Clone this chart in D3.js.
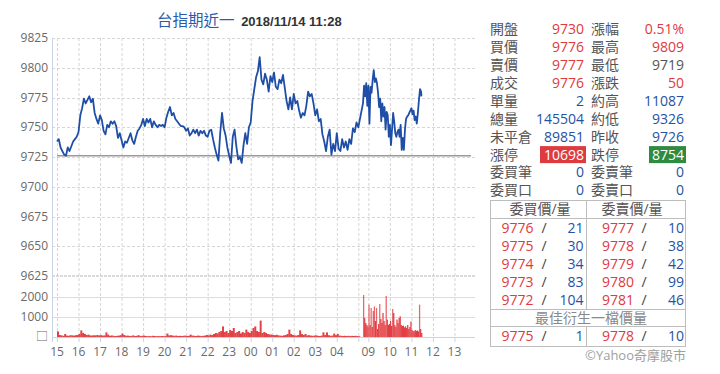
<!DOCTYPE html>
<html>
<head>
<meta charset="utf-8">
<script src="https://cdn.jsdelivr.net/npm/d3@7"></script>
<style>
  body { margin: 0; background: #fff; }
  svg { display: block; font-family: "Open Sans", "Noto Sans CJK TC", sans-serif; }
</style>
</head>
<body>
<svg id="chart" width="720" height="374"></svg>
<script>
// ---- data ----
const titleName = "台指期近一";
const titleTime = "2018/11/14 11:28";
const prevClose = 9726;

// night session 15:00 -> 05:00, one value every 5 min
const nightStart = "15:00";
const nightStep = 5;
const nightPrices = [
  9738,9740,9733,9730,9727,9726,9733,9730,9734,9738,9740,9742,
  9746,9760,9766,9774,9770,9773,9776,9771,9774,9762,9757,9753,
  9760,9756,9747,9744,9752,9750,9755,9753,9755,9751,9741,9745,
  9739,9733,9738,9737,9741,9745,9739,9736,9742,9747,9749,9752,
  9757,9751,9757,9754,9757,9750,9755,9752,9750,9752,9751,9752,
  9750,9758,9763,9767,9760,9762,9757,9755,9753,9751,9751,9750,
  9747,9749,9743,9745,9748,9745,9748,9743,9747,9745,9747,9743,
  9742,9747,9748,9740,9733,9727,9722,9745,9762,9749,9743,9733,
  9726,9720,9742,9748,9734,9723,9725,9720,9735,9745,9736,9750,
  9754,9772,9782,9792,9797,9809,9790,9786,9795,9790,9780,9793,
  9788,9796,9784,9782,9790,9787,9794,9783,9772,9765,9775,9765,
  9778,9770,9772,9764,9758,9762,9760,9768,9780,9776,9778,9770,
  9760,9765,9755,9757,9744,9738,9730,9742,9748,9727,9736,9730,
  9745,9732,9730,9740,9733,9738,9731,9740,9736,9749,9746,9754,
  9750
];
const nightVolumes = [
  280,100,80,60,150,70,60,90,80,70,90,100,
  150,330,200,150,100,120,80,70,90,80,100,80,
  90,70,80,230,120,60,80,60,50,60,70,90,
  170,100,60,70,50,60,80,50,60,90,50,60,
  70,50,40,50,40,60,50,40,50,40,50,40,
  50,170,80,90,70,60,70,50,60,50,60,70,
  50,60,120,70,60,50,70,60,50,60,70,100,
  80,120,100,150,200,180,250,300,530,250,300,200,
  350,300,450,200,250,300,180,250,200,370,250,200,
  300,450,530,300,250,820,200,250,200,150,130,120,
  100,90,110,80,70,60,80,100,150,370,150,100,
  80,70,100,330,150,100,150,80,90,70,60,70,
  80,60,50,70,230,100,230,90,60,70,170,90,
  150,70,60,50,60,50,60,50,60,50,60,50,
  40
];

// day session from 08:45, one value every 3 min
const dayStart = "08:45";
const dayStep = 3;
const dayPrices = [
  9770,9785,9776,9787,9768,9785,9753,9784,9779,9790,9798,
  9788,9791,9787,9779,9767,9774,9755,9770,9759,9767,9748,
  9763,9760,9742,9752,9735,9748,9762,9755,9745,9742,9746,
  9748,9742,9752,9731,9741,9731,9748,9757,9759,9760,9762,
  9764,9766,9761,9764,9756,9759,9753,9762,9773,9782,9780
];
const dayVolumes = [
  2100,950,700,600,530,1620,600,1450,500,1300,1530,
  800,1450,400,650,1650,900,700,1200,800,600,2050,
  870,600,650,800,550,1400,1200,600,500,870,700,
  950,1030,600,550,570,480,530,450,600,400,500,
  770,350,300,280,350,300,330,280,1620,400,200
];
const lastTime = "11:28";
const lastPrice = 9776;

const priceTicks = [9825, 9800, 9775, 9750, 9725, 9700, 9675, 9650, 9625];
const volumeTicks = [2000, 1000, 0];
const hourTicks = ["15","16","17","18","19","20","21","22","23","00","01","02","03","04","09","10","11","12","13"];
const sessionBreak = "05:00";
const sessionEnd = "13:45";

// quote panel
const leftLabels  = ["開盤","買價","賣價","成交","單量","總量","未平倉","漲停","委買筆","委買口"];
const leftValues  = ["9730","9776","9777","9776","2","145504","89851","10698","0","0"];
const leftKinds   = ["up","up","up","up","vol","vol","vol","limitUp","vol","vol"];
const rightLabels = ["漲幅","最高","最低","漲跌","約高","約低","昨收","跌停","委賣筆","委賣口"];
const rightValues = ["0.51%","9809","9719","50","11087","9326","9726","8754","0","0"];
const rightKinds  = ["up","up","flat","up","vol","vol","vol","limitDown","vol","vol"];

const bidPrices = [9776, 9775, 9774, 9773, 9772];
const bidQty    = [21, 30, 34, 83, 104];
const askPrices = [9777, 9778, 9779, 9780, 9781];
const askQty    = [10, 38, 42, 99, 46];
const bestBid = [9775, 1];
const bestAsk = [9778, 10];

// ---- scales ----
const GAP = 13; // minutes of width kept between the two sessions
function sessionMinute(hhmm) {
  const [h, m] = hhmm.split(":").map(Number);
  if (h >= 15) return (h - 15) * 60 + m;
  if (h < 5 || (h === 5 && m === 0)) return (h + 9) * 60 + m;
  return 840 + GAP + (h * 60 + m - 525);
}
const margin = { left: 52, right: 475, top: 38 };
const x = d3.scaleLinear()
  .domain([0, sessionMinute(sessionEnd)])
  .range([57, 470.6]);
const y = d3.scaleLinear().domain([9625, 9825]).range([276, 38]);
const yv = d3.scaleLinear().domain([0, 2000]).range([337, 297]);

// build the series
const series = [];
const n0 = sessionMinute(nightStart);
nightPrices.forEach((p, i) => series.push({ t: n0 + i * nightStep, p: p, v: nightVolumes[i], w: nightStep }));
const d0 = sessionMinute(dayStart);
dayPrices.forEach((p, i) => series.push({ t: d0 + i * dayStep, p: p, v: dayVolumes[i], w: dayStep }));
series.push({ t: sessionMinute(lastTime), p: lastPrice, v: 0, w: 1 });

const svg = d3.select("#chart");

// ---- title ----
const title = svg.append("text").attr("x", 157).attr("y", 26);
title.append("tspan").text(titleName)
  .attr("fill", "#2a5caa").style("font-size", "15.5px");
title.append("tspan").text(" " + titleTime)
  .attr("dx", 3)
  .attr("fill", "#333").style("font-size", "13px").style("font-weight", "bold")
  .style("font-family", "'Liberation Sans', Arial, sans-serif");

// ---- grid ----
const grid = svg.append("g");
const gridTimes = hourTicks.map(h => h + ":00").concat([sessionBreak]);
grid.selectAll(".vgrid")
  .data(gridTimes)
  .enter().append("line")
  .attr("x1", d => x(sessionMinute(d)) + 0.5)
  .attr("x2", d => x(sessionMinute(d)) + 0.5)
  .attr("y1", 38).attr("y2", 337)
  .attr("stroke", "#d6d6d6").attr("stroke-dasharray", "3,2");
grid.selectAll(".hgrid")
  .data(priceTicks.filter(d => d !== 9625))
  .enter().append("line")
  .attr("x1", margin.left).attr("x2", margin.right)
  .attr("y1", d => Math.round(y(d)) + 0.5).attr("y2", d => Math.round(y(d)) + 0.5)
  .attr("stroke", "#d6d6d6").attr("stroke-dasharray", "3,2");
grid.append("line")
  .attr("x1", margin.left).attr("x2", margin.right)
  .attr("y1", y(9625)).attr("y2", y(9625))
  .attr("stroke", "#cfcfcf").attr("stroke-width", 1.5).attr("stroke-dasharray", "3,1");
grid.selectAll(".vgridv")
  .data(volumeTicks.filter(d => d > 0))
  .enter().append("line")
  .attr("x1", margin.left).attr("x2", margin.right)
  .attr("y1", d => Math.round(yv(d)) + 0.5).attr("y2", d => Math.round(yv(d)) + 0.5)
  .attr("stroke", "#d8dee8");

// ---- volume bars ----
svg.append("g").selectAll("rect")
  .data(series.filter(d => d.v > 0))
  .enter().append("rect")
  .attr("x", d => x(d.t))
  .attr("width", d => Math.max(1, x(d.t + d.w) - x(d.t)) + 0.2)
  .attr("y", d => yv(d.v))
  .attr("height", d => yv(0) - yv(d.v))
  .attr("fill", "#e0373c")
  .attr("fill-opacity", d => d.v > 1200 ? 0.75 : 0.95);

// ---- axes lines ----
svg.append("line")
  .attr("x1", margin.left + 0.5).attr("x2", margin.left + 0.5)
  .attr("y1", 38).attr("y2", 342)
  .attr("stroke", "#c9d5e6");
svg.append("line")
  .attr("x1", margin.left).attr("x2", margin.right)
  .attr("y1", yv(0) + 0.5).attr("y2", yv(0) + 0.5)
  .attr("stroke", "#c9d5e6");
svg.append("g").selectAll("line")
  .data(gridTimes)
  .enter().append("line")
  .attr("x1", d => x(sessionMinute(d)) + 0.5)
  .attr("x2", d => x(sessionMinute(d)) + 0.5)
  .attr("y1", yv(0)).attr("y2", yv(0) + 5)
  .attr("stroke", "#c9d5e6");

// previous close
svg.append("line")
  .attr("x1", x(0)).attr("x2", 471)
  .attr("y1", y(prevClose)).attr("y2", y(prevClose))
  .attr("stroke", "#9a9a9a").attr("stroke-width", 1.5);

// ---- price line ----
const line = d3.line().x(d => x(d.t)).y(d => y(d.p));
svg.append("path")
  .datum(series)
  .attr("d", line)
  .attr("fill", "none")
  .attr("stroke", "#1f4ea6")
  .attr("stroke-width", 1.8)
  .attr("stroke-linejoin", "round");

// ---- axis labels ----
const axisFont = "12px";
svg.append("g").selectAll("text")
  .data(priceTicks)
  .enter().append("text")
  .attr("x", 48).attr("y", d => y(d)).attr("dy", "0.35em")
  .attr("text-anchor", "end").attr("fill", "#6a6a6a").style("font-size", axisFont)
  .text(d => d);
svg.append("g").selectAll("text")
  .data(volumeTicks)
  .enter().append("text")
  .attr("x", 48).attr("y", d => yv(d)).attr("dy", "0.35em")
  .attr("text-anchor", "end").attr("fill", "#6a6a6a").style("font-size", axisFont)
  .text(d => d === 0 ? "□" : d);
svg.append("g").selectAll("text")
  .data(hourTicks)
  .enter().append("text")
  .attr("x", d => x(sessionMinute(d + ":00")))
  .attr("y", 352).attr("dy", "0.35em")
  .attr("text-anchor", "middle").attr("fill", "#6a6a6a").style("font-size", axisFont)
  .text(d => d);

// ---- quote panel ----
const colors = { up: "#e0393e", flat: "#555", vol: "#2452a4", limitUp: "#fff", limitDown: "#fff" };
const rowY = d3.scaleLinear().domain([0, 1]).range([29.3, 47.2]);
const panel = svg.append("g").style("font-size", "14px");

function drawColumn(labels, values, kinds, labelX, valueX, boxX) {
  labels.forEach((lab, i) => {
    const cy = rowY(i);
    if (kinds[i] === "limitUp" || kinds[i] === "limitDown") {
      panel.append("rect")
        .attr("x", boxX).attr("y", cy - 8.5)
        .attr("width", valueX + 2 - boxX).attr("height", 17)
        .attr("fill", kinds[i] === "limitUp" ? "#dd3b3f" : "#2e8b3f");
    }
    panel.append("text")
      .attr("x", labelX).attr("y", cy).attr("dy", "0.35em")
      .attr("fill", "#555").text(lab);
    panel.append("text")
      .attr("x", valueX).attr("y", cy).attr("dy", "0.35em")
      .attr("text-anchor", "end").attr("fill", colors[kinds[i]]).text(values[i]);
  });
}
drawColumn(leftLabels, leftValues, leftKinds, 490, 584, 540);
drawColumn(rightLabels, rightValues, rightKinds, 591, 684, 649);

// ---- order book table ----
const book = svg.append("g").style("font-size", "14px");
const tL = 490.5, tR = 685.5, tM = 586.5;
const tTop = 200.5, tHead = 218.5, tRows = 309.5, tBest = 326.5, tBot = 346.5;
const border = "#bdbdbd";
book.append("rect").attr("x", tL).attr("y", tTop).attr("width", tR - tL).attr("height", tBot - tTop)
  .attr("fill", "none").attr("stroke", border);
[tHead, tRows, tBest].forEach(yy => book.append("line")
  .attr("x1", tL).attr("x2", tR).attr("y1", yy).attr("y2", yy).attr("stroke", border));
book.append("line").attr("x1", tM).attr("x2", tM).attr("y1", tTop).attr("y2", tRows).attr("stroke", border);
book.append("line").attr("x1", tM).attr("x2", tM).attr("y1", tBest).attr("y2", tBot).attr("stroke", border);

book.append("text").attr("x", 540).attr("y", 209.5).attr("dy", "0.35em")
  .attr("text-anchor", "middle").attr("fill", "#555").text("委買價/量");
book.append("text").attr("x", 632).attr("y", 209.5).attr("dy", "0.35em")
  .attr("text-anchor", "middle").attr("fill", "#555").text("委賣價/量");
book.append("text").attr("x", 591).attr("y", 318).attr("dy", "0.35em")
  .attr("text-anchor", "middle").attr("fill", "#888").text("最佳衍生一檔價量");

const bookY = d3.scaleLinear().domain([0, 1]).range([228.3, 246.2]);
function bookRow(cy, bp, bq, ap, aq) {
  book.append("text").attr("x", 501.5).attr("y", cy).attr("dy", "0.35em").attr("fill", "#e0393e").text(bp);
  book.append("text").attr("x", 541.5).attr("y", cy).attr("dy", "0.35em").attr("fill", "#444").text("/");
  book.append("text").attr("x", 583.5).attr("y", cy).attr("dy", "0.35em").attr("text-anchor", "end").attr("fill", "#2452a4").text(bq);
  book.append("text").attr("x", 602).attr("y", cy).attr("dy", "0.35em").attr("fill", "#e0393e").text(ap);
  book.append("text").attr("x", 641.5).attr("y", cy).attr("dy", "0.35em").attr("fill", "#444").text("/");
  book.append("text").attr("x", 684).attr("y", cy).attr("dy", "0.35em").attr("text-anchor", "end").attr("fill", "#2452a4").text(aq);
}
bidPrices.forEach((p, i) => bookRow(bookY(i), p, bidQty[i], askPrices[i], askQty[i]));
bookRow(335.8, bestBid[0], bestBid[1], bestAsk[0], bestAsk[1]);

svg.append("text").attr("x", 686).attr("y", 355).attr("dy", "0.35em")
  .attr("text-anchor", "end").attr("fill", "#a0a0a0").style("font-size", "13px")
  .text("©Yahoo奇摩股市");
</script>
</body>
</html>
